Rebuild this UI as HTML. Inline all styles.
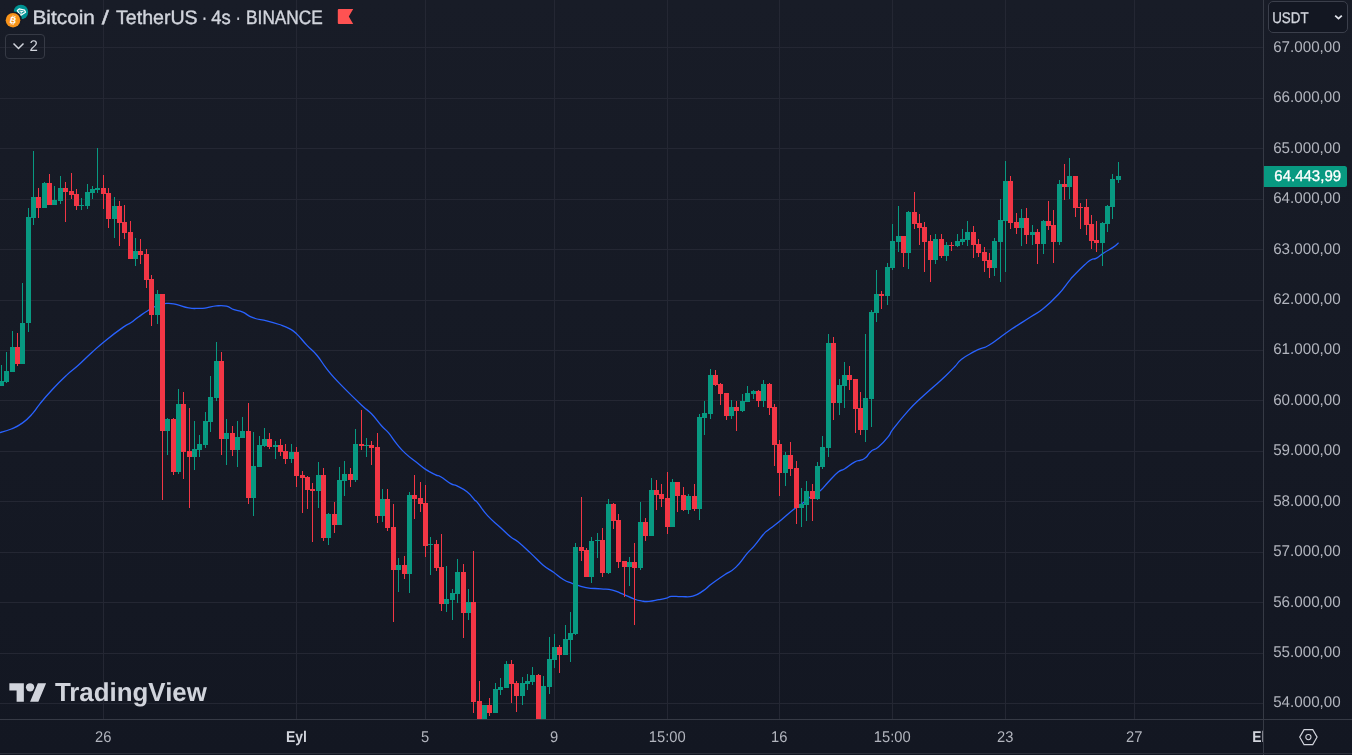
<!DOCTYPE html>
<html><head><meta charset="utf-8"><title>BTCUSDT</title>
<style>
html,body{margin:0;padding:0}
body{width:1352px;height:755px;overflow:hidden;position:relative;background:linear-gradient(#181c27,#131722);font-family:"Liberation Sans",sans-serif;color:#b2b5be}
.chart{position:absolute;left:0;top:0}
.abs{position:absolute}
svg text{font-family:"Liberation Sans",sans-serif}
.gs{will-change:transform}
</style></head><body>
<svg class="chart" width="1263" height="719" viewBox="0 0 1263 719" shape-rendering="crispEdges">
<rect x="0" y="47" width="1263" height="1" fill="#242733"/>
<rect x="0" y="98" width="1263" height="1" fill="#242733"/>
<rect x="0" y="148" width="1263" height="1" fill="#242733"/>
<rect x="0" y="199" width="1263" height="1" fill="#242733"/>
<rect x="0" y="249" width="1263" height="1" fill="#242733"/>
<rect x="0" y="300" width="1263" height="1" fill="#242733"/>
<rect x="0" y="350" width="1263" height="1" fill="#242733"/>
<rect x="0" y="400" width="1263" height="1" fill="#242733"/>
<rect x="0" y="451" width="1263" height="1" fill="#242733"/>
<rect x="0" y="501" width="1263" height="1" fill="#242733"/>
<rect x="0" y="552" width="1263" height="1" fill="#242733"/>
<rect x="0" y="602" width="1263" height="1" fill="#242733"/>
<rect x="0" y="653" width="1263" height="1" fill="#242733"/>
<rect x="0" y="703" width="1263" height="1" fill="#242733"/>
<rect x="103" y="0" width="1" height="719" fill="#242733"/>
<rect x="296" y="0" width="1" height="719" fill="#242733"/>
<rect x="425" y="0" width="1" height="719" fill="#242733"/>
<rect x="554" y="0" width="1" height="719" fill="#242733"/>
<rect x="667" y="0" width="1" height="719" fill="#242733"/>
<rect x="779" y="0" width="1" height="719" fill="#242733"/>
<rect x="892" y="0" width="1" height="719" fill="#242733"/>
<rect x="1005" y="0" width="1" height="719" fill="#242733"/>
<rect x="1134" y="0" width="1" height="719" fill="#242733"/>
<path shape-rendering="geometricPrecision" fill="none" stroke="#2962ff" stroke-width="1.3" stroke-linejoin="round" stroke-linecap="round" d="M0.0 432.7C2.8 431.8 5.6 431.4 11.3 429.0C17.0 426.6 17.2 426.8 22.6 422.9C28.0 419.0 28.3 418.3 32.7 413.4C37.1 408.5 35.3 409.4 40.3 403.3C45.3 397.2 46.2 396.1 52.8 389.0C59.4 381.9 60.4 381.0 66.7 375.1C73.0 369.2 71.7 371.2 78.0 365.6C84.3 360.0 84.9 358.8 91.8 352.5C98.7 346.2 97.8 346.8 105.7 340.4C113.6 334.0 117.0 331.5 123.3 327.1C129.6 322.7 127.0 325.3 130.8 322.8C134.6 320.3 134.0 320.1 138.4 317.0C142.8 313.9 143.5 313.1 148.5 310.2C153.5 307.2 153.8 306.9 158.5 305.2C163.2 303.5 162.9 303.6 167.3 303.4C171.7 303.2 170.8 303.3 176.1 304.4C181.4 305.5 183.0 306.9 188.7 307.9C194.4 308.9 194.4 308.4 198.8 308.4C203.2 308.4 201.9 308.5 206.3 307.9C210.7 307.3 211.4 306.3 216.4 305.9C221.4 305.5 222.1 305.2 226.5 306.2C230.9 307.1 229.9 308.2 234.0 309.7C238.1 311.2 238.1 310.2 242.8 312.2C247.5 314.2 246.9 315.5 252.9 317.7C258.9 319.9 260.1 319.1 266.7 320.8C273.3 322.5 273.6 322.6 279.3 324.5C285.0 326.4 285.0 326.2 289.4 328.6C293.8 331.0 292.5 329.9 296.9 334.1C301.3 338.3 301.9 340.0 307.0 345.4C312.1 350.8 312.1 349.5 317.1 355.5C322.1 361.5 321.4 362.2 327.1 369.3C332.8 376.4 331.4 375.0 340.0 383.9C348.6 392.8 353.5 397.5 361.4 405.0C369.3 412.5 366.5 408.6 371.5 413.8C376.5 419.0 377.3 421.1 381.5 425.8C385.7 430.5 384.4 428.0 388.4 432.7C392.3 437.4 393.1 439.4 397.3 444.6C401.6 449.8 400.8 449.1 405.4 453.4C409.9 457.6 410.4 457.6 415.5 461.6C420.6 465.6 420.6 466.1 425.6 469.4C430.6 472.7 431.8 473.0 435.6 474.8C439.4 476.6 436.9 474.5 440.7 476.7C444.5 478.9 446.6 481.3 450.7 483.6C454.8 485.9 452.9 483.8 457.0 485.9C461.1 487.9 462.6 488.3 467.0 491.8C471.4 495.3 471.9 497.2 474.6 500.0C477.3 502.8 474.4 498.8 477.7 502.8C481.0 506.8 482.1 509.8 487.8 515.9C493.5 522.0 494.7 522.2 500.4 527.4C506.1 532.6 506.1 533.2 510.5 536.8C514.9 540.4 513.0 537.7 518.0 541.8C523.0 545.9 524.3 547.2 530.6 553.1C536.9 559.0 537.6 560.5 543.2 565.2C548.9 569.9 548.2 568.4 553.2 572.0C558.2 575.6 558.6 576.7 563.3 579.5C568.0 582.3 566.4 581.3 572.1 583.3C577.8 585.3 578.8 586.2 586.0 587.6C593.2 589.0 594.4 588.2 601.0 588.8C607.6 589.4 607.0 588.8 612.4 590.1C617.8 591.4 617.0 591.7 622.4 593.9C627.8 596.1 629.1 597.1 633.8 598.9C638.5 600.6 637.5 600.3 641.3 600.9C645.1 601.5 644.5 601.7 648.9 601.4C653.3 601.1 654.5 600.5 658.9 599.7C663.3 598.9 663.4 598.9 666.5 598.1C669.6 597.3 667.7 596.8 671.5 596.4C675.3 596.0 676.2 596.7 681.6 596.6C687.0 596.5 687.5 597.5 692.9 596.1C698.2 594.7 698.3 594.0 703.0 590.9C707.7 587.8 706.5 587.8 711.8 583.8C717.1 579.8 718.3 579.1 724.3 575.0C730.3 570.9 730.0 572.8 735.7 567.4C741.4 562.0 742.3 559.0 747.0 553.6C751.7 548.2 750.4 550.4 754.5 545.6C758.6 540.8 759.8 538.4 763.3 534.5C766.8 530.6 764.4 533.2 768.3 530.0C772.2 526.8 772.9 526.8 779.0 521.8C785.1 516.8 786.9 514.6 792.9 509.9C798.9 505.2 798.5 506.3 802.9 503.0C807.3 499.7 806.1 499.9 810.5 496.7C814.9 493.5 816.1 494.0 820.5 490.4C824.9 486.8 823.7 486.8 828.1 482.2C832.5 477.6 834.1 475.4 838.2 472.1C842.3 468.8 840.3 471.5 844.4 469.0C848.5 466.5 850.4 464.3 854.5 462.1C858.6 459.9 858.0 461.3 860.8 460.2C863.6 459.1 863.3 459.8 865.8 457.6C868.3 455.4 867.8 454.0 870.9 451.4C874.0 448.8 874.0 450.8 878.4 447.0C882.8 443.2 884.9 440.8 888.5 436.3C892.1 431.9 888.1 435.6 893.0 429.2C897.9 422.8 901.2 418.6 908.1 410.9C915.0 403.2 914.4 404.3 920.7 398.3C927.0 392.3 927.0 392.6 933.3 387.0C939.6 381.4 940.4 380.8 945.8 375.7C951.1 370.6 950.8 370.9 954.7 366.8C958.7 362.7 956.9 362.9 961.6 359.2C966.3 355.5 969.0 354.5 973.6 351.9C978.2 349.3 976.1 350.6 980.0 348.9C983.9 347.2 982.9 348.9 989.3 345.0C995.7 341.1 999.1 337.9 1005.7 333.2C1012.3 328.5 1009.5 330.5 1015.8 326.4C1022.1 322.3 1024.0 321.3 1030.9 316.8C1037.8 312.3 1036.5 314.1 1043.4 308.5C1050.3 302.9 1052.2 300.9 1058.5 294.2C1064.8 287.5 1064.8 286.2 1068.6 281.6C1072.4 277.0 1069.5 280.1 1073.6 275.8C1077.7 271.5 1080.6 268.5 1085.0 264.5C1089.4 260.5 1088.3 261.3 1091.2 259.7C1094.1 258.1 1093.4 259.9 1096.6 258.1C1099.8 256.4 1100.0 255.4 1104.1 252.7C1108.2 250.0 1109.5 249.8 1113.0 247.4C1116.5 245.0 1117.0 244.2 1118.3 243.1"/>
<path fill="#089981" d="M1 365h1v21h-1zM-1 381h5v5h-5zM6 352h1v31h-1zM4 371h5v11h-5zM12 331h1v41h-1zM10 347h5v25h-5zM22 283h1v81h-1zM20 323h5v41h-5zM28 208h1v124h-1zM26 217h5v106h-5zM33 151h1v74h-1zM31 197h5v21h-5zM44 182h1v26h-1zM42 183h5v25h-5zM54 186h1v19h-1zM52 200h5v5h-5zM60 176h1v28h-1zM58 188h5v13h-5zM81 198h1v12h-1zM79 205h5v1h-5zM87 184h1v25h-1zM85 192h5v14h-5zM92 186h1v13h-1zM90 189h5v4h-5zM97 148h1v45h-1zM95 188h5v2h-5zM114 197h1v41h-1zM112 206h5v13h-5zM135 238h1v28h-1zM133 251h5v8h-5zM157 290h1v34h-1zM155 294h5v21h-5zM167 418h1v37h-1zM165 419h5v12h-5zM178 389h1v85h-1zM176 404h5v68h-5zM194 421h1v49h-1zM192 449h5v8h-5zM199 435h1v22h-1zM197 444h5v6h-5zM205 412h1v36h-1zM203 421h5v24h-5zM210 376h1v56h-1zM208 397h5v25h-5zM216 342h1v59h-1zM214 361h5v37h-5zM226 419h1v46h-1zM224 433h5v6h-5zM237 421h1v46h-1zM235 437h5v13h-5zM242 417h1v21h-1zM240 431h5v7h-5zM253 432h1v84h-1zM251 466h5v32h-5zM259 436h1v31h-1zM257 445h5v22h-5zM264 428h1v19h-1zM262 439h5v7h-5zM275 441h1v18h-1zM273 445h5v2h-5zM291 444h1v19h-1zM289 452h5v7h-5zM318 462h1v46h-1zM316 475h5v16h-5zM328 513h1v32h-1zM326 514h5v24h-5zM339 467h1v58h-1zM337 480h5v45h-5zM344 461h1v35h-1zM342 474h5v7h-5zM355 429h1v53h-1zM353 444h5v36h-5zM366 438h1v19h-1zM364 445h5v1h-5zM382 489h1v33h-1zM380 499h5v17h-5zM398 558h1v34h-1zM396 565h5v5h-5zM409 492h1v101h-1zM407 495h5v79h-5zM430 537h1v38h-1zM428 544h5v1h-5zM446 566h1v46h-1zM444 599h5v5h-5zM452 589h1v31h-1zM450 593h5v7h-5zM457 559h1v44h-1zM455 572h5v22h-5zM468 589h1v31h-1zM466 602h5v11h-5zM484 705h1v14h-1zM482 705h5v14h-5zM495 683h1v30h-1zM493 689h5v24h-5zM500 678h1v17h-1zM498 687h5v3h-5zM506 661h1v27h-1zM504 664h5v24h-5zM522 677h1v28h-1zM520 683h5v13h-5zM527 674h1v16h-1zM525 681h5v3h-5zM532 667h1v18h-1zM530 675h5v7h-5zM543 676h1v43h-1zM541 686h5v33h-5zM549 637h1v57h-1zM547 659h5v28h-5zM554 634h1v34h-1zM552 647h5v13h-5zM565 625h1v30h-1zM563 639h5v16h-5zM570 612h1v50h-1zM568 633h5v7h-5zM575 543h1v92h-1zM573 547h5v87h-5zM591 537h1v46h-1zM589 541h5v36h-5zM597 533h1v25h-1zM595 540h5v1h-5zM608 499h1v75h-1zM606 504h5v69h-5zM629 557h1v29h-1zM627 562h5v5h-5zM640 502h1v68h-1zM638 522h5v46h-5zM651 478h1v58h-1zM649 490h5v46h-5zM672 479h1v48h-1zM670 482h5v45h-5zM688 494h1v20h-1zM686 496h5v14h-5zM699 414h1v106h-1zM697 417h5v92h-5zM704 401h1v34h-1zM702 413h5v5h-5zM710 369h1v50h-1zM708 375h5v39h-5zM731 400h1v19h-1zM729 407h5v9h-5zM742 394h1v18h-1zM740 401h5v10h-5zM747 386h1v16h-1zM745 393h5v9h-5zM753 390h1v9h-1zM751 391h5v3h-5zM763 380h1v27h-1zM761 384h5v17h-5zM785 452h1v34h-1zM783 455h5v18h-5zM801 488h1v39h-1zM799 504h5v4h-5zM806 481h1v40h-1zM804 491h5v14h-5zM817 462h1v38h-1zM815 466h5v33h-5zM822 436h1v33h-1zM820 447h5v20h-5zM828 334h1v123h-1zM826 343h5v105h-5zM839 379h1v36h-1zM837 385h5v18h-5zM844 362h1v46h-1zM842 375h5v11h-5zM865 334h1v108h-1zM863 398h5v32h-5zM871 310h1v117h-1zM869 312h5v87h-5zM876 270h1v52h-1zM874 294h5v19h-5zM887 263h1v42h-1zM885 267h5v29h-5zM892 224h1v46h-1zM890 241h5v27h-5zM898 206h1v46h-1zM896 236h5v6h-5zM908 211h1v58h-1zM906 212h5v41h-5zM935 234h1v30h-1zM933 239h5v21h-5zM946 242h1v19h-1zM944 245h5v11h-5zM957 234h1v13h-1zM955 241h5v5h-5zM962 229h1v16h-1zM960 239h5v3h-5zM967 221h1v25h-1zM965 232h5v8h-5zM994 238h1v38h-1zM992 241h5v27h-5zM1000 199h1v83h-1zM998 220h5v22h-5zM1005 161h1v111h-1zM1003 181h5v40h-5zM1021 209h1v37h-1zM1019 218h5v10h-5zM1032 225h1v20h-1zM1030 232h5v3h-5zM1043 220h1v34h-1zM1041 221h5v23h-5zM1059 180h1v65h-1zM1057 184h5v58h-5zM1069 158h1v41h-1zM1067 176h5v11h-5zM1102 222h1v44h-1zM1100 223h5v20h-5zM1107 205h1v27h-1zM1105 206h5v18h-5zM1112 174h1v45h-1zM1110 179h5v28h-5zM1118 162h1v21h-1zM1116 176h5v4h-5z"/>
<path fill="#f23645" d="M17 333h1v33h-1zM15 347h5v17h-5zM38 188h1v30h-1zM36 197h5v11h-5zM49 174h1v31h-1zM47 183h5v22h-5zM65 182h1v40h-1zM63 188h5v4h-5zM71 173h1v26h-1zM69 191h5v4h-5zM76 189h1v21h-1zM74 194h5v12h-5zM103 175h1v34h-1zM101 188h5v6h-5zM108 188h1v40h-1zM106 193h5v26h-5zM119 201h1v45h-1zM117 206h5v17h-5zM124 205h1v34h-1zM122 222h5v11h-5zM130 221h1v38h-1zM128 232h5v27h-5zM140 239h1v25h-1zM138 251h5v4h-5zM146 249h1v39h-1zM144 254h5v26h-5zM151 275h1v51h-1zM149 279h5v36h-5zM162 294h1v206h-1zM160 294h5v137h-5zM173 418h1v57h-1zM171 419h5v53h-5zM183 392h1v87h-1zM181 404h5v48h-5zM189 408h1v100h-1zM187 451h5v6h-5zM221 352h1v103h-1zM219 361h5v78h-5zM232 426h1v30h-1zM230 433h5v17h-5zM248 403h1v101h-1zM246 431h5v67h-5zM269 433h1v16h-1zM267 439h5v8h-5zM280 439h1v17h-1zM278 445h5v7h-5zM285 444h1v20h-1zM283 451h5v8h-5zM296 447h1v40h-1zM294 452h5v24h-5zM302 471h1v42h-1zM300 475h5v3h-5zM307 476h1v33h-1zM305 477h5v13h-5zM312 483h1v59h-1zM310 489h5v2h-5zM323 468h1v73h-1zM321 475h5v63h-5zM334 502h1v31h-1zM332 514h5v11h-5zM350 468h1v19h-1zM348 474h5v6h-5zM361 410h1v40h-1zM359 444h5v2h-5zM371 441h1v24h-1zM369 445h5v3h-5zM377 433h1v90h-1zM375 447h5v69h-5zM387 489h1v42h-1zM385 499h5v29h-5zM393 504h1v118h-1zM391 527h5v43h-5zM404 556h1v23h-1zM402 565h5v9h-5zM414 475h1v44h-1zM412 495h5v4h-5zM420 482h1v30h-1zM418 498h5v6h-5zM425 485h1v72h-1zM423 503h5v43h-5zM436 540h1v31h-1zM434 544h5v24h-5zM441 534h1v77h-1zM439 567h5v37h-5zM463 564h1v74h-1zM461 572h5v41h-5zM473 551h1v162h-1zM471 602h5v100h-5zM479 681h1v38h-1zM477 701h5v18h-5zM489 698h1v18h-1zM487 705h5v8h-5zM511 660h1v43h-1zM509 664h5v20h-5zM516 681h1v31h-1zM514 683h5v13h-5zM538 674h1v45h-1zM536 675h5v44h-5zM559 645h1v28h-1zM557 647h5v8h-5zM581 497h1v64h-1zM579 547h5v4h-5zM586 548h1v29h-1zM584 550h5v27h-5zM602 528h1v49h-1zM600 540h5v33h-5zM613 503h1v26h-1zM611 504h5v17h-5zM618 514h1v54h-1zM616 520h5v42h-5zM624 561h1v36h-1zM622 561h5v6h-5zM634 543h1v82h-1zM632 562h5v6h-5zM645 518h1v23h-1zM643 522h5v14h-5zM656 480h1v30h-1zM654 490h5v5h-5zM661 484h1v23h-1zM659 494h5v5h-5zM667 472h1v62h-1zM665 498h5v29h-5zM677 482h1v30h-1zM675 482h5v14h-5zM683 487h1v24h-1zM681 495h5v15h-5zM694 484h1v27h-1zM692 496h5v13h-5zM715 370h1v16h-1zM713 375h5v10h-5zM720 383h1v22h-1zM718 384h5v10h-5zM726 393h1v27h-1zM724 393h5v23h-5zM736 401h1v30h-1zM734 407h5v4h-5zM758 390h1v17h-1zM756 391h5v10h-5zM769 383h1v32h-1zM767 384h5v24h-5zM774 404h1v62h-1zM772 407h5v38h-5zM779 440h1v56h-1zM777 444h5v29h-5zM790 442h1v34h-1zM788 455h5v14h-5zM796 461h1v63h-1zM794 468h5v40h-5zM812 484h1v37h-1zM810 491h5v8h-5zM833 337h1v83h-1zM831 343h5v60h-5zM849 366h1v24h-1zM847 375h5v5h-5zM855 379h1v54h-1zM853 379h5v30h-5zM860 392h1v43h-1zM858 408h5v22h-5zM881 291h1v18h-1zM879 294h5v2h-5zM903 236h1v31h-1zM901 236h5v17h-5zM914 192h1v37h-1zM912 212h5v12h-5zM919 214h1v31h-1zM917 223h5v5h-5zM924 222h1v50h-1zM922 227h5v15h-5zM930 235h1v47h-1zM928 241h5v19h-5zM941 234h1v24h-1zM939 239h5v17h-5zM951 242h1v9h-1zM949 245h5v1h-5zM973 226h1v32h-1zM971 232h5v13h-5zM978 239h1v18h-1zM976 244h5v9h-5zM984 247h1v25h-1zM982 252h5v9h-5zM989 253h1v25h-1zM987 260h5v8h-5zM1010 176h1v53h-1zM1008 181h5v42h-5zM1016 213h1v21h-1zM1014 222h5v6h-5zM1026 208h1v36h-1zM1024 218h5v17h-5zM1037 229h1v35h-1zM1035 232h5v12h-5zM1048 201h1v29h-1zM1046 221h5v5h-5zM1053 210h1v53h-1zM1051 225h5v17h-5zM1064 164h1v36h-1zM1062 184h5v3h-5zM1075 176h1v41h-1zM1073 176h5v32h-5zM1080 203h1v26h-1zM1078 207h5v1h-5zM1086 199h1v36h-1zM1084 207h5v18h-5zM1091 215h1v34h-1zM1089 224h5v17h-5zM1096 221h1v31h-1zM1094 240h5v3h-5z"/>
</svg>
<div class="abs" style="left:1263px;top:0;width:1px;height:755px;background:#363a45"></div>
<div class="abs" style="left:0;top:719px;width:1352px;height:1px;background:#363a45"></div>
<div class="abs" style="left:0;top:753px;width:1352px;height:1px;background:#2a2e39"></div>
<div class="abs" style="left:1264px;top:166px;width:83px;height:21px;background:#089981;border-radius:0 2.5px 2.5px 0"></div>
<div class="abs" style="left:1268px;top:1px;width:80px;height:32px;border:1px solid #3b3f4b;border-radius:5px;box-sizing:border-box;background:#131722"></div>
<svg class="abs" style="left:1333px;top:12px" width="12" height="10" viewBox="0 0 12 10"><path d="M2.2 3.6L5.5 6.6L8.8 3.6" fill="none" stroke="#e0e3eb" stroke-width="1.8"/></svg>
<svg class="abs" style="left:1297px;top:726px" width="22" height="22" viewBox="0 0 22 22"><path d="M2.7 11.1L7.05 3.6h8.7L20.1 11.1L15.75 18.6h-8.7z" fill="none" stroke="#d1d4dc" stroke-width="1.15"/><circle cx="11.4" cy="11.1" r="2.6" fill="none" stroke="#d1d4dc" stroke-width="1.05"/></svg>
<svg class="abs" style="left:0;top:0" width="40" height="32" viewBox="0 0 40 32">
<circle cx="20.9" cy="12" r="7.3" fill="#009393"/>
<g transform="rotate(12 21.2 12)"><path d="M18.6 9.4h5.4l1.5 2-4.2 4.2-4.2-4.2z" fill="none" stroke="#fff" stroke-width="1.25" stroke-linejoin="round"/>
<path d="M19.3 11.4h4M21.3 11.4v2.4" stroke="#fff" stroke-width="1"/></g>
<circle cx="13" cy="20.2" r="9" fill="#171b26"/>
<circle cx="13" cy="20.2" r="7.3" fill="#f7931a"/>
<g transform="rotate(13 13 20.2)"><text x="13.1" y="23.4" font-weight="bold" font-size="8.8" fill="#fff" text-anchor="middle">B</text><path d="M12 15.6v1.4M14 15.6v1.4M12 23.4v1.4M14 23.4v1.4" stroke="#fff" stroke-width="0.9"/></g>
</svg>
<svg class="abs" style="left:337px;top:8px" width="18" height="18" viewBox="0 0 18 18"><path d="M1.8 1h14.4l-4.4 7.5 4.4 7.5H1.8a1 1 0 0 1-1-1V2a1 1 0 0 1 1-1z" fill="#ff5252"/></svg>
<div class="abs" style="left:5px;top:34px;width:40px;height:25px;border:1px solid #363a45;border-radius:4px;box-sizing:border-box"></div>
<svg class="abs" style="left:12px;top:41px" width="14" height="10" viewBox="0 0 14 10"><path d="M1.5 2.5L6.5 7.5L11.5 2.5" fill="none" stroke="#d1d4dc" stroke-width="1.5"/></svg>
<svg class="abs" style="left:9px;top:678.5px" width="38" height="29" viewBox="0 0 36 28"><path d="M14 22H7V11H0V4h14v18zM28 22h-8l7.5-18h8L28 22z" fill="#d1d4dc"/><circle cx="20" cy="8" r="4" fill="#d1d4dc"/></svg>
<svg class="abs gs" style="left:0;top:0" width="1352" height="755" viewBox="0 0 1352 755" text-rendering="geometricPrecision">
<text x="32.42" y="23.70" font-size="19.5" fill="#d1d4dc" text-anchor="start" textLength="62.56" lengthAdjust="spacingAndGlyphs" stroke="#d1d4dc" stroke-width="0.4">Bitcoin</text>
<text x="101.82" y="23.70" font-size="19.5" fill="#d1d4dc" text-anchor="start" textLength="7.16" lengthAdjust="spacingAndGlyphs" stroke="#d1d4dc" stroke-width="0.4">/</text>
<text x="116.02" y="23.70" font-size="19.5" fill="#d1d4dc" text-anchor="start" textLength="81.66" lengthAdjust="spacingAndGlyphs" stroke="#d1d4dc" stroke-width="0.4">TetherUS</text>
<text x="202.02" y="23.70" font-size="19.5" fill="#d1d4dc" text-anchor="start" textLength="4.96" lengthAdjust="spacingAndGlyphs" stroke="#d1d4dc" stroke-width="0.4">·</text>
<text x="211.22" y="23.70" font-size="19.5" fill="#d1d4dc" text-anchor="start" textLength="19.46" lengthAdjust="spacingAndGlyphs" stroke="#d1d4dc" stroke-width="0.4">4s</text>
<text x="235.72" y="23.70" font-size="19.5" fill="#d1d4dc" text-anchor="start" textLength="4.96" lengthAdjust="spacingAndGlyphs" stroke="#d1d4dc" stroke-width="0.4">·</text>
<text x="246.12" y="23.70" font-size="19.5" fill="#d1d4dc" text-anchor="start" textLength="76.66" lengthAdjust="spacingAndGlyphs" stroke="#d1d4dc" stroke-width="0.4">BINANCE</text>
<text x="29.60" y="51.30" font-size="15.5" fill="#d1d4dc" text-anchor="start" textLength="8.36" lengthAdjust="spacingAndGlyphs">2</text>
<text x="1272.20" y="23.00" font-size="15.5" fill="#d1d4dc" text-anchor="start" textLength="36.40" lengthAdjust="spacingAndGlyphs" stroke="#d1d4dc" stroke-width="0.3">USDT</text>
<text x="1273.20" y="52.10" font-size="15.5" fill="#b2b5be" text-anchor="start" textLength="67.50" lengthAdjust="spacingAndGlyphs">67.000,00</text>
<text x="1273.20" y="102.10" font-size="15.5" fill="#b2b5be" text-anchor="start" textLength="67.50" lengthAdjust="spacingAndGlyphs">66.000,00</text>
<text x="1273.20" y="153.10" font-size="15.5" fill="#b2b5be" text-anchor="start" textLength="67.50" lengthAdjust="spacingAndGlyphs">65.000,00</text>
<text x="1273.20" y="203.10" font-size="15.5" fill="#b2b5be" text-anchor="start" textLength="67.50" lengthAdjust="spacingAndGlyphs">64.000,00</text>
<text x="1273.20" y="254.10" font-size="15.5" fill="#b2b5be" text-anchor="start" textLength="67.50" lengthAdjust="spacingAndGlyphs">63.000,00</text>
<text x="1273.20" y="304.10" font-size="15.5" fill="#b2b5be" text-anchor="start" textLength="67.50" lengthAdjust="spacingAndGlyphs">62.000,00</text>
<text x="1273.20" y="354.10" font-size="15.5" fill="#b2b5be" text-anchor="start" textLength="67.50" lengthAdjust="spacingAndGlyphs">61.000,00</text>
<text x="1273.20" y="405.10" font-size="15.5" fill="#b2b5be" text-anchor="start" textLength="67.50" lengthAdjust="spacingAndGlyphs">60.000,00</text>
<text x="1273.20" y="455.10" font-size="15.5" fill="#b2b5be" text-anchor="start" textLength="67.50" lengthAdjust="spacingAndGlyphs">59.000,00</text>
<text x="1273.20" y="506.10" font-size="15.5" fill="#b2b5be" text-anchor="start" textLength="67.50" lengthAdjust="spacingAndGlyphs">58.000,00</text>
<text x="1273.20" y="556.10" font-size="15.5" fill="#b2b5be" text-anchor="start" textLength="67.50" lengthAdjust="spacingAndGlyphs">57.000,00</text>
<text x="1273.20" y="607.10" font-size="15.5" fill="#b2b5be" text-anchor="start" textLength="67.50" lengthAdjust="spacingAndGlyphs">56.000,00</text>
<text x="1273.20" y="657.10" font-size="15.5" fill="#b2b5be" text-anchor="start" textLength="67.50" lengthAdjust="spacingAndGlyphs">55.000,00</text>
<text x="1273.20" y="707.10" font-size="15.5" fill="#b2b5be" text-anchor="start" textLength="67.50" lengthAdjust="spacingAndGlyphs">54.000,00</text>
<text x="1274.30" y="181.10" font-size="15.5" fill="#ffffff" text-anchor="start" textLength="66.80" lengthAdjust="spacingAndGlyphs" stroke="#fff" stroke-width="0.35">64.443,99</text>
</svg>
<svg class="abs gs" style="left:0;top:720px" width="1263" height="35" viewBox="0 720 1263 35" text-rendering="geometricPrecision">
<text x="103.20" y="742.00" font-size="15.5" fill="#b2b5be" text-anchor="middle" textLength="16.38" lengthAdjust="spacingAndGlyphs">26</text>
<text x="296.50" y="742.00" font-size="15.5" fill="#d1d4dc" font-weight="bold" text-anchor="middle" textLength="20.94" lengthAdjust="spacingAndGlyphs">Eyl</text>
<text x="425.20" y="742.00" font-size="15.5" fill="#b2b5be" text-anchor="middle" textLength="8.19" lengthAdjust="spacingAndGlyphs">5</text>
<text x="554.20" y="742.00" font-size="15.5" fill="#b2b5be" text-anchor="middle" textLength="8.19" lengthAdjust="spacingAndGlyphs">9</text>
<text x="667.20" y="742.00" font-size="15.5" fill="#b2b5be" text-anchor="middle" textLength="36.85" lengthAdjust="spacingAndGlyphs">15:00</text>
<text x="779.20" y="742.00" font-size="15.5" fill="#b2b5be" text-anchor="middle" textLength="16.38" lengthAdjust="spacingAndGlyphs">16</text>
<text x="892.20" y="742.00" font-size="15.5" fill="#b2b5be" text-anchor="middle" textLength="36.85" lengthAdjust="spacingAndGlyphs">15:00</text>
<text x="1005.20" y="742.00" font-size="15.5" fill="#b2b5be" text-anchor="middle" textLength="16.38" lengthAdjust="spacingAndGlyphs">23</text>
<text x="1134.20" y="742.00" font-size="15.5" fill="#b2b5be" text-anchor="middle" textLength="16.38" lengthAdjust="spacingAndGlyphs">27</text>
<text x="1260.80" y="742.00" font-size="15.5" fill="#d1d4dc" font-weight="bold" text-anchor="middle" textLength="17.06" lengthAdjust="spacingAndGlyphs">Ek</text>
</svg>
<svg class="abs gs" style="left:0;top:670px" width="230" height="50" viewBox="0 670 230 50" text-rendering="geometricPrecision"><text x="54.90" y="701.40" font-size="26" fill="#d1d4dc" font-weight="bold" text-anchor="start" textLength="152.00" lengthAdjust="spacingAndGlyphs">TradingView</text></svg>
</body></html>
